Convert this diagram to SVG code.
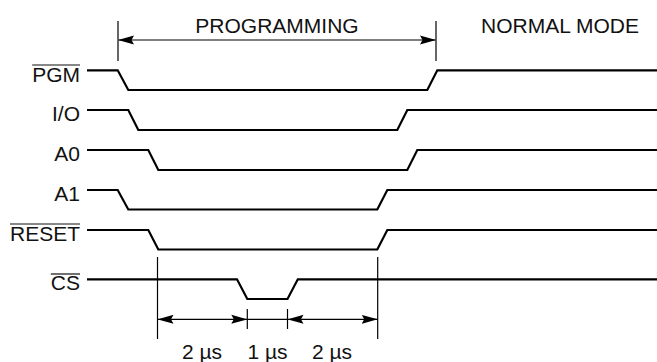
<svg xmlns="http://www.w3.org/2000/svg" width="657" height="362" viewBox="0 0 657 362">
<style>
  .bg { fill: #ffffff; }
  .lbl { font-family: "Liberation Sans", Arial, sans-serif; font-size: 21px; fill: #111111; }
  .end { text-anchor: end; }
  .mid { text-anchor: middle; }
  .sig { fill: none; stroke: #000000; stroke-width: 2.2; stroke-linejoin: miter; }
  .ovl { stroke: #111111; stroke-width: 1.2; }
  .tick { stroke: #000000; stroke-width: 1.2; }
  .dim { fill: none; stroke: #000000; stroke-width: 1.3; }
  .hdr { fill: none; stroke: #555555; stroke-width: 1.4; }
  .head { fill: #000000; }
</style>
<defs>
  <marker id="arrS" viewBox="0 0 16 10" refX="0" refY="5" markerWidth="16" markerHeight="10" markerUnits="userSpaceOnUse" orient="auto">
    <path class="head" d="M0,5 L16,0.5 L13.5,5 L16,9.5 Z"/>
  </marker>
  <marker id="arrE" viewBox="0 0 16 10" refX="16" refY="5" markerWidth="16" markerHeight="10" markerUnits="userSpaceOnUse" orient="auto">
    <path class="head" d="M16,5 L0,0.5 L2.5,5 L0,9.5 Z"/>
  </marker>
</defs>
<rect class="bg" x="0" y="0" width="657" height="362"/>

<g id="header-programming">
  <line class="tick" x1="118" y1="21" x2="118" y2="61"/>
  <line class="tick" x1="436" y1="21" x2="436" y2="61"/>
  <text class="lbl mid" x="277" y="33">PROGRAMMING</text>
</g>
<g id="header-normal">
  <text class="lbl mid" x="560" y="33">NORMAL MODE</text>
</g>

<g id="sig-pgm">
  <text class="lbl end" x="80" y="81.5">PGM</text>
  <line class="ovl" x1="32.2" y1="65" x2="80" y2="65"/>
  <polyline class="sig" points="87,70.3 117.7,70.3 128.3,90 427.3,90 437.3,70.3 657,70.3"/>
</g>
<g id="sig-io">
  <text class="lbl end" x="80" y="121">I/O</text>
  <polyline class="sig" points="87,110 128.3,110 138.3,130 397.3,130 407.3,110 657,110"/>
</g>
<g id="sig-a0">
  <text class="lbl end" x="80" y="161">A0</text>
  <polyline class="sig" points="87,150 148.3,150 158.3,170 407.3,170 417.3,150 657,150"/>
</g>
<g id="sig-a1">
  <text class="lbl end" x="80" y="200.5">A1</text>
  <polyline class="sig" points="87,190 117.7,190 128.3,209.5 377.3,209.5 387.3,190 657,190"/>
</g>
<g id="sig-reset">
  <text class="lbl end" x="80" y="240.5">RESET</text>
  <line class="ovl" x1="10" y1="224" x2="80" y2="224"/>
  <polyline class="sig" points="87,230 148.3,230 158.3,249.5 377.3,249.5 387.3,230 657,230"/>
</g>
<g id="sig-cs">
  <text class="lbl end" x="80" y="290">CS</text>
  <line class="ovl" x1="50.8" y1="274" x2="80" y2="274"/>
  <polyline class="sig" points="87,279.3 237,279.3 247.3,299 287.5,299 297.8,279.3 657,279.3"/>
</g>

<g id="connectors">
  <line class="hdr" x1="118" y1="40" x2="436" y2="40" marker-start="url(#arrS)" marker-end="url(#arrE)"/>
  <line class="tick" x1="157.5" y1="257" x2="157.5" y2="339"/>
  <line class="tick" x1="377.7" y1="257" x2="377.7" y2="339"/>
  <line class="tick" x1="247.3" y1="309" x2="247.3" y2="329"/>
  <line class="tick" x1="287.5" y1="309" x2="287.5" y2="329"/>
  <line class="dim" x1="157.5" y1="319.3" x2="247.3" y2="319.3" marker-start="url(#arrS)" marker-end="url(#arrE)"/>
  <line class="dim" x1="247.3" y1="319.3" x2="287.5" y2="319.3"/>
  <line class="dim" x1="287.5" y1="319.3" x2="377.7" y2="319.3" marker-start="url(#arrS)" marker-end="url(#arrE)"/>
</g>

<g id="timing-labels">
  <text class="lbl mid" x="202" y="359">2 µs</text>
  <text class="lbl mid" x="267.5" y="359">1 µs</text>
  <text class="lbl mid" x="332" y="359">2 µs</text>
</g>
</svg>
